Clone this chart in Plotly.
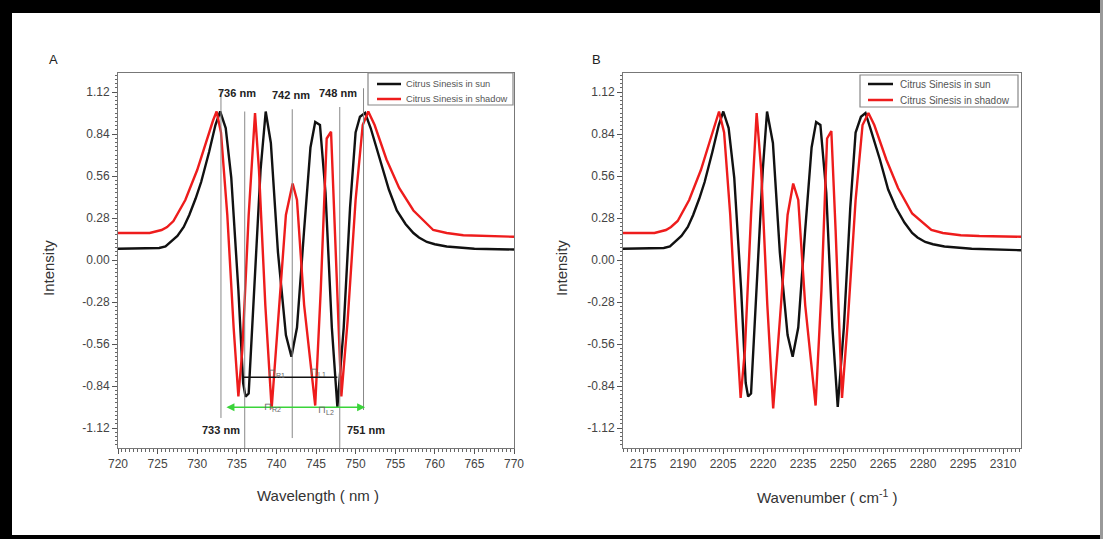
import plotly.graph_objects as go

# ---------------- data ----------------
# Panel A : wavelength (nm)
wl_sun = [720, 724, 725.2, 726, 727.5, 728.3, 729, 729.8, 730.5, 731.5, 732.3, 732.9, 733.6, 734.3,
          735.2, 735.8, 736.1, 736.5, 737.2, 738.0, 738.65, 739.3, 740.2, 741.2, 741.9, 742.6, 743.5,
          744.3, 744.9, 745.5, 746.2, 747.0, 747.7, 748.5, 749.3, 750.0, 750.55, 751.2, 751.9, 753.1,
          754.2, 755.2, 756.3, 757.3, 758, 759, 760, 761.5, 765, 770]
int_sun = [0.075, 0.075, 0.08, 0.09, 0.16, 0.22, 0.30, 0.41, 0.52, 0.72, 0.90, 0.99, 0.88, 0.55,
           -0.20, -0.82, -0.91, -0.89, -0.20, 0.60, 0.99, 0.78, 0.05, -0.50, -0.645, -0.45, 0.20,
           0.75, 0.92, 0.90, 0.45, -0.45, -0.98, -0.45, 0.35, 0.85, 0.955, 0.98, 0.88, 0.67,
           0.47, 0.33, 0.24, 0.18, 0.15, 0.12, 0.105, 0.09, 0.075, 0.07]

wl_shadow = [720, 724, 725.5, 726.2, 727, 728.5, 730, 731.2, 732.0, 732.45, 733.0, 733.8, 734.6,
             735.2, 735.7, 736.5, 737.3, 737.8, 738.6, 739.4, 740.2, 741.2, 742.05, 742.6, 743.5,
             744.9, 745.6, 746.35, 746.9, 747.4, 748.2, 749.0, 750.0, 750.9, 751.6, 752.4, 753.9,
             755.5, 757.3, 759.8, 761.5, 763.6, 766, 770]
int_shadow = [0.18, 0.18, 0.20, 0.22, 0.26, 0.40, 0.60, 0.80, 0.93, 0.99, 0.85, 0.30, -0.45,
              -0.91, -0.60, 0.30, 0.98, 0.60, -0.30, -0.99, -0.40, 0.30, 0.51, 0.40, -0.30,
              -0.97, -0.20, 0.81, 0.855, 0.20, -0.91, -0.40, 0.40, 0.90, 0.99, 0.90, 0.67,
              0.48, 0.33, 0.20, 0.18, 0.165, 0.16, 0.155]

# Panel B : wavenumber (cm-1)
wn_sun = [2167.5, 2179.3, 2182.8, 2185.1, 2189.4, 2191.8, 2193.8, 2196.1, 2198.1, 2201.0, 2203.4,
          2205.1, 2207.1, 2209.2, 2211.8, 2213.5, 2214.4, 2215.5, 2217.6, 2219.9, 2221.5, 2223.7,
          2226.3, 2229.2, 2231.1, 2233.2, 2235.8, 2238.2, 2239.9, 2241.5, 2243.7, 2246.0, 2248.0,
          2250.3, 2252.7, 2254.7, 2256.7, 2258.4, 2260.2, 2263.8, 2266.9, 2269.8, 2273.0, 2275.9,
          2277.9, 2280.8, 2283.7, 2288.0, 2298.2, 2316.7]
intB_sun = [0.075, 0.075, 0.08, 0.09, 0.16, 0.22, 0.30, 0.41, 0.52, 0.72, 0.90,
            0.99, 0.88, 0.55, -0.20, -0.82, -0.91, -0.89, -0.20, 0.60, 0.99, 0.78,
            0.05, -0.50, -0.645, -0.45, 0.20, 0.75, 0.92, 0.90, 0.45, -0.45, -0.98,
            -0.45, 0.35, 0.85, 0.955, 0.98, 0.88, 0.67, 0.47, 0.35, 0.25, 0.18,
            0.15, 0.12, 0.105, 0.09, 0.075, 0.065]

wn_shadow = [2167.5, 2179.3, 2183.6, 2185.5, 2188.0, 2192.3, 2196.7, 2200.2, 2202.5, 2203.5, 2205.4,
             2207.7, 2210.0, 2211.6, 2213.2, 2215.5, 2217.6, 2219.3, 2221.6, 2223.8, 2226.3, 2229.2,
             2231.3, 2233.2, 2235.8, 2239.7, 2241.9, 2244.0, 2245.6, 2247.2, 2249.6, 2251.8, 2254.7,
             2257.3, 2259.5, 2261.7, 2266.2, 2270.6, 2275.9, 2283.1, 2287.4, 2294.1, 2301.1, 2316.7]
intB_shadow = [0.18, 0.18, 0.20, 0.22, 0.26, 0.40, 0.60, 0.80, 0.93, 0.99, 0.85,
               0.30, -0.45, -0.92, -0.60, 0.30, 0.98, 0.60, -0.30, -0.99, -0.40, 0.30,
               0.51, 0.40, -0.30, -0.97, -0.20, 0.81, 0.86, 0.20, -0.92, -0.40, 0.40,
               0.90, 0.98, 0.90, 0.67, 0.48, 0.31, 0.20, 0.18, 0.165, 0.16, 0.155]

series_names = ["Citrus Sinesis in sun", "Citrus Sinesis in shadow"]

y_ticks = [1.12, 0.84, 0.56, 0.28, 0.0, -0.28, -0.56, -0.84, -1.12]
y_ticktext = ["1.12", "0.84", "0.56", "0.28", "0.00", "-0.28", "-0.56", "-0.84", "-1.12"]

# marked wavelengths (panel A)
mark_wl = [733, 736, 742, 748, 751]
# ---------------------------------------

W, H = 1103, 539
def px(xp):
    return xp / W
def py(yp):
    return 1 - yp / H

BLACK = "#111111"
RED = "#ee1c1c"
COLORS = [BLACK, RED]
FONT = "Liberation Sans"

fig = go.Figure()
fig.add_trace(go.Scatter(x=wl_sun, y=int_sun, mode="lines", name=series_names[0],
                         line=dict(color=BLACK, width=2.4), xaxis="x", yaxis="y"))
fig.add_trace(go.Scatter(x=wl_shadow, y=int_shadow, mode="lines", name=series_names[1],
                         line=dict(color=RED, width=2.4), xaxis="x", yaxis="y"))
fig.add_trace(go.Scatter(x=wn_sun, y=intB_sun, mode="lines", name=series_names[0],
                         line=dict(color=BLACK, width=2.4), xaxis="x2", yaxis="y2"))
fig.add_trace(go.Scatter(x=wn_shadow, y=intB_shadow, mode="lines", name=series_names[1],
                         line=dict(color=RED, width=2.4), xaxis="x2", yaxis="y2"))

yr = [-1.2533, 1.2467]
tickfont = dict(family=FONT, size=12, color="#444")
common_axis = dict(showgrid=False, zeroline=False, showline=True, linecolor="#777", linewidth=1,
                   mirror=True, ticks="outside", ticklen=5, tickcolor="#555", tickfont=tickfont)

yaxis_cfg = dict(common_axis, range=yr, tickmode="array", tickvals=y_ticks, ticktext=y_ticktext,
                 minor=dict(ticks="outside", ticklen=2.5, tickcolor="#666", dtick=0.028, tick0=0))

fig.update_layout(
    width=W, height=H,
    margin=dict(l=0, r=0, t=0, b=0, autoexpand=False),
    paper_bgcolor="white", plot_bgcolor="white",
    showlegend=False,
    xaxis=dict(common_axis, domain=[px(118), px(514)], range=[720, 770], tick0=720, dtick=5,
               minor=dict(ticks="outside", ticklen=2.5, tickcolor="#666", dtick=0.5), anchor="y"),
    yaxis=dict(yaxis_cfg, domain=[py(448), py(73)], anchor="x"),
    xaxis2=dict(common_axis, domain=[px(623), px(1021)], range=[2167.5, 2316.7], tick0=2175, dtick=15,
                minor=dict(ticks="outside", ticklen=2.5, tickcolor="#666", dtick=1.5, tick0=2175), anchor="y2"),
    yaxis2=dict(yaxis_cfg, domain=[py(448), py(73)], anchor="x2"),
)

shapes = []
ann = []
# outer black frame
shapes.append(dict(type="rect", xref="paper", yref="paper", x0=0, x1=1, y0=py(13), y1=1,
                   fillcolor="black", line=dict(width=0)))
shapes.append(dict(type="rect", xref="paper", yref="paper", x0=0, x1=px(12), y0=0, y1=1,
                   fillcolor="black", line=dict(width=0)))
shapes.append(dict(type="rect", xref="paper", yref="paper", x0=0, x1=1, y0=0, y1=py(535),
                   fillcolor="black", line=dict(width=0)))
shapes.append(dict(type="rect", xref="paper", yref="paper", x0=px(1100), x1=1, y0=0, y1=1,
                   fillcolor="#999", line=dict(width=0)))

# custom legends (box, line samples, labels)
for (bx0, bx1, by0, by1, lx0, lx1, tx, rows, fs) in [
        (368, 513, 73, 105, 377, 401, 404, [84, 99], 9.3),
        (860, 1018, 75, 107, 868, 893, 898, [84, 100], 10)]:
    shapes.append(dict(type="rect", xref="paper", yref="paper", x0=px(bx0), x1=px(bx1),
                       y0=py(by1), y1=py(by0), fillcolor="white",
                       line=dict(color="#888", width=1.2), layer="above"))
    for name, col, ry in zip(series_names, COLORS, rows):
        shapes.append(dict(type="line", xref="paper", yref="paper", x0=px(lx0), x1=px(lx1),
                           y0=py(ry), y1=py(ry), line=dict(color=col, width=2.5), layer="above"))
        ann.append(dict(x=px(tx), y=py(ry), xref="paper", yref="paper", text=name,
                        xanchor="left", yanchor="middle", showarrow=False,
                        font=dict(family=FONT, size=fs, color="#555")))

# vertical marker lines in panel A
line_tops = [1.135, 0.99, 1.005, 1.02, 1.145]
line_bots = [-1.053, -1.253, -1.187, -1.253, -1.0]
for wl, t, b in zip(mark_wl, line_tops, line_bots):
    shapes.append(dict(type="line", xref="x", yref="y", x0=wl, x1=wl, y0=b, y1=t,
                       line=dict(color="#888", width=1), layer="above"))
# black horizontal line
shapes.append(dict(type="line", xref="x", yref="y", x0=735.8, x1=747.7, y0=-0.782, y1=-0.782,
                   line=dict(color=BLACK, width=1.5), layer="above"))
fig.update_layout(shapes=shapes)

C = dict(xanchor="center", yanchor="middle", showarrow=False)
lab_font = dict(family=FONT, size=11, color="#222")
ann.append(dict(C, x=735.0, y=1.113, xref="x", yref="y", text="<b>736 nm</b>", font=lab_font))
ann.append(dict(C, x=741.8, y=1.10, xref="x", yref="y", text="<b>742 nm</b>", font=lab_font))
ann.append(dict(C, x=747.8, y=1.113, xref="x", yref="y", text="<b>748 nm</b>", font=lab_font))
ann.append(dict(C, x=733.0, y=-1.133, xref="x", yref="y", text="<b>733 nm</b>", font=lab_font))
ann.append(dict(C, x=751.3, y=-1.133, xref="x", yref="y", text="<b>751 nm</b>", font=lab_font))
# green double arrow
ann.append(dict(x=751.2, y=-0.982, ax=733.5, ay=-0.982, xref="x", yref="y", axref="x", ayref="y",
                text="", showarrow=True, arrowhead=2, arrowside="end+start", arrowsize=1,
                arrowwidth=1.6, arrowcolor="#3ad43a"))
small = dict(family=FONT, size=10, color="#666")
ann.append(dict(C, x=740.0, y=-0.75, xref="x", yref="y", text="⊓<sub>R1</sub>", font=small))
ann.append(dict(C, x=745.2, y=-0.745, xref="x", yref="y", text="⊓<sub>L1</sub>", font=small))
ann.append(dict(C, x=739.5, y=-0.98, xref="x", yref="y", text="⊓<sub>R2</sub>", font=small))
ann.append(dict(C, x=746.3, y=-1.0, xref="x", yref="y", text="⊓<sub>L2</sub>", font=small))

# panel letters
ann.append(dict(C, x=px(53), y=py(60), xref="paper", yref="paper", text="A",
                font=dict(family=FONT, size=13, color="#222")))
ann.append(dict(C, x=px(596), y=py(60), xref="paper", yref="paper", text="B",
                font=dict(family=FONT, size=13, color="#222")))
# axis titles
tfont = dict(family=FONT, size=15, color="#333")
ann.append(dict(C, x=px(318), y=py(495), xref="paper", yref="paper", text="Wavelength ( nm )", font=tfont))
ann.append(dict(C, x=px(827), y=py(496), xref="paper", yref="paper",
                text="Wavenumber ( cm<sup>-1</sup> )", font=tfont))
ann.append(dict(C, x=px(48), y=py(268), xref="paper", yref="paper", text="Intensity", textangle=-90,
                font=tfont))
ann.append(dict(C, x=px(561), y=py(268), xref="paper", yref="paper", text="Intensity", textangle=-90,
                font=tfont))
fig.update_layout(annotations=ann)

fig.write_html("out.html", config={"displayModeBar": False},
               post_script="document.body.style.margin='0';document.body.style.overflow='hidden';")
